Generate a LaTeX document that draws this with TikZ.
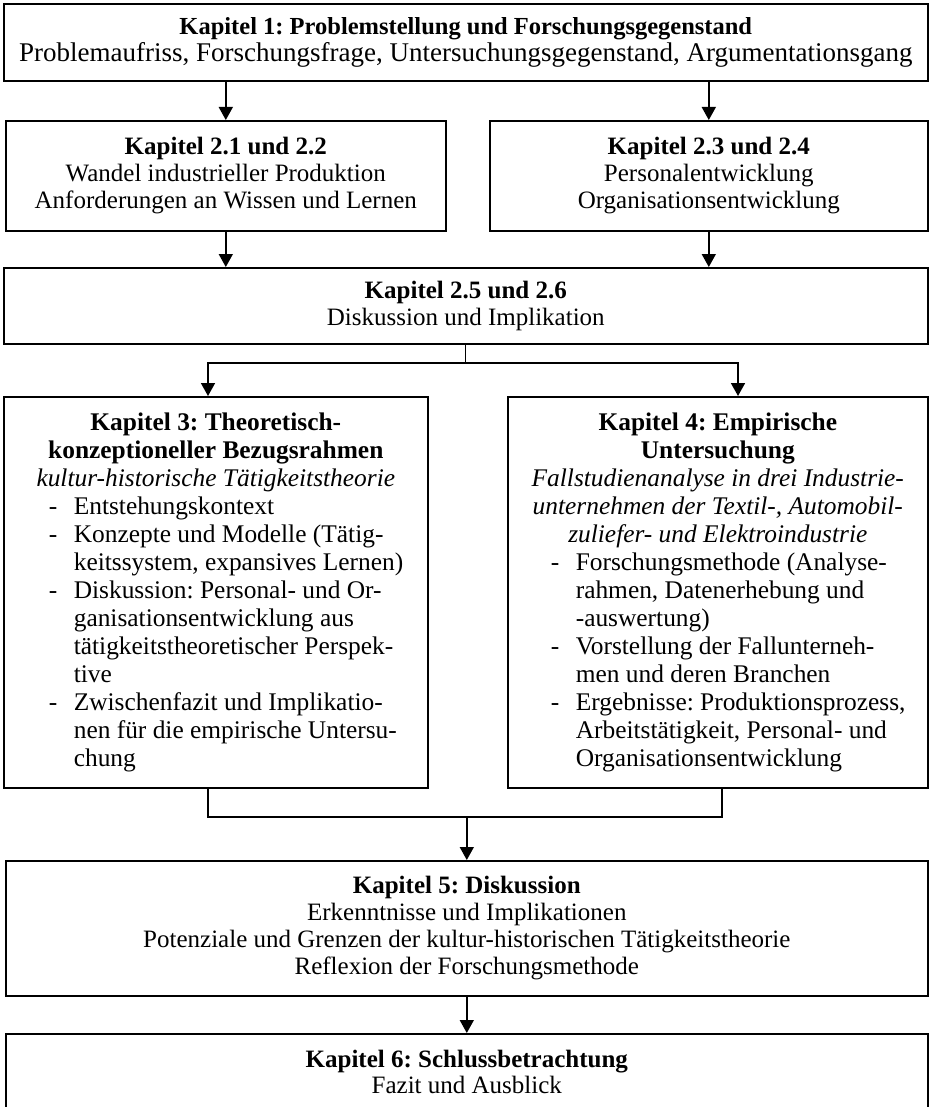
\documentclass[tikz,border=0pt]{standalone}
\usepackage{fontspec}
\setmainfont{Liberation Serif}
\usetikzlibrary{arrows.meta}
\frenchspacing
\newcommand\bitem{\par\hangindent=58pt\hangafter=1\noindent\hspace*{33pt}\makebox[25pt][l]{-}}
\begin{document}
\begin{tikzpicture}[x=1pt,y=-1pt,
  box/.style={draw, line width=1.6pt, inner sep=0pt, anchor=north west, align=center},
  arr/.style={line width=1.6pt, -{Triangle[length=13pt,width=14pt]}},
  ln/.style={line width=1.6pt},
  thin/.style={line width=1.1pt}]
\useasboundingbox (0,0) rectangle (929,1107);
\node[box, minimum width=924pt, minimum height=77pt] (k1) at (3,3)
  {{\frenchspacing\bfseries\fontsize{24.5}{25}\selectfont Kapitel 1: Problemstellung und Forschungsgegenstand}\\[2pt]
   {\frenchspacing\fontsize{27}{26}\selectfont Problemaufriss, Forschungsfrage, Untersuchungsgegenstand, Argumentationsgang}};
\node[box, minimum width=440pt, minimum height=110pt, font=\fontsize{25}{27}\selectfont] (k21) at (5,120)
  {\textbf{Kapitel 2.1 und 2.2}\\Wandel industrieller Produktion\\Anforderungen an Wissen und Lernen};
\node[box, minimum width=438pt, minimum height=110pt, font=\fontsize{25}{27}\selectfont] (k23) at (489,120)
  {\textbf{Kapitel 2.3 und 2.4}\\Personalentwicklung\\Organisationsentwicklung};
\node[box, minimum width=924pt, minimum height=76pt, font=\fontsize{25}{27}\selectfont] (k25) at (3,267)
  {\textbf{Kapitel 2.5 und 2.6}\\Diskussion und Implikation};
\node[box, minimum width=424pt, minimum height=391pt] (k3) at (3,396)
  {\begin{minipage}[t]{400pt}\fontsize{25.4}{28}\selectfont\frenchspacing
   {\centering\bfseries Kapitel 3: Theoretisch-\\konzeptioneller Bezugsrahmen\\\mdseries\itshape kultur-historische Tätigkeitstheorie\par}
   \bitem Entstehungskontext
   \bitem Konzepte und Modelle (Tätig-\newline keitssystem, expansives Lernen)
   \bitem Diskussion: Personal- und Or-\newline ganisationsentwicklung aus\newline tätigkeitstheoretischer Perspek-\newline tive
   \bitem Zwischenfazit und Implikatio-\newline nen für die empirische Untersu-\newline chung\par
   \end{minipage}};
\node[box, minimum width=420pt, minimum height=391pt] (k4) at (507,396)
  {\begin{minipage}[t]{400pt}\fontsize{25.4}{28}\selectfont\frenchspacing
   {\centering\bfseries Kapitel 4: Empirische\\Untersuchung\\\mdseries\itshape Fallstudienanalyse in drei Industrie-\\unternehmen der Textil-, Automobil-\\zuliefer- und Elektroindustrie\par}
   \bitem Forschungsmethode (Analyse-\newline rahmen, Datenerhebung und\newline -auswertung)
   \bitem Vorstellung der Fallunterneh-\newline men und deren Branchen
   \bitem Ergebnisse: Produktionsprozess,\newline Arbeitstätigkeit, Personal- und\newline Organisationsentwicklung\par
   \end{minipage}};
\node[box, minimum width=922pt, minimum height=135pt, font=\fontsize{25}{27}\selectfont] (k5) at (5,860)
  {\textbf{Kapitel 5: Diskussion}\\Erkenntnisse und Implikationen\\Potenziale und Grenzen der kultur-historischen Tätigkeitstheorie\\Reflexion der Forschungsmethode};
\node[box, minimum width=922pt, minimum height=77pt, font=\fontsize{25}{26}\selectfont] (k6) at (5,1033)
  {\textbf{Kapitel 6: Schlussbetrachtung}\\Fazit und Ausblick};
% connectors
\draw[arr] (k21.north |- k1.south) -- (k21.north);
\draw[arr] (k23.north |- k1.south) -- (k23.north);
\draw[arr] (k21.south) -- (k21.south |- k25.north);
\draw[arr] (k23.south) -- (k23.south |- k25.north);
\coordinate (j1) at (208,363);
\coordinate (j2) at (738,363);
\draw[thin] (k25.south) -- (k25.south |- j1);
\draw[arr] (k25.south |- j1) -| (j1 |- k3.north);
\draw[arr] (k25.south |- j1) -| (j2 |- k4.north);
\coordinate (b1) at (208,817);
\coordinate (b2) at (722,817);
\draw[ln] (b1 |- k3.south) -- (b1) -- (b2) -- (b2 |- k4.south);
\draw[arr] (k5.north |- b1) -- (k5.north);
\draw[arr] (k5.south) -- (k6.north);
\end{tikzpicture}
\end{document}
